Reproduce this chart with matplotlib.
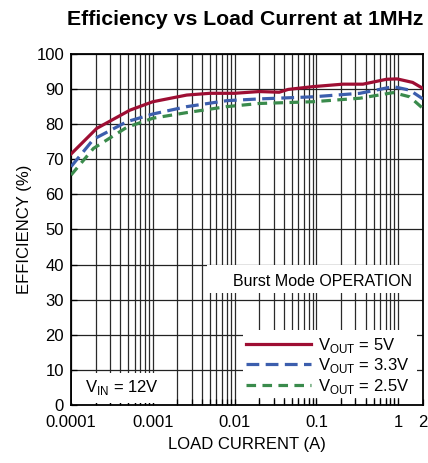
import numpy as np
import matplotlib
matplotlib.use("Agg")
import matplotlib.pyplot as plt
from matplotlib.patches import Rectangle
from matplotlib.ticker import FixedLocator, NullFormatter

plt.rcParams['font.family'] = ['Liberation Sans', 'DejaVu Sans']

# data
current_5v = [0.0001, 0.000206, 0.000525, 0.001, 0.0026, 0.005, 0.01, 0.02, 0.035, 0.045, 0.091, 0.21, 0.37, 0.72, 0.97, 1.5, 2.0]
eff_5v = [71.5, 78.8, 84.0, 86.4, 88.3, 88.8, 88.8, 89.3, 89.1, 89.9, 90.7, 91.4, 91.4, 92.8, 92.9, 91.9, 90.2]

current_33v = [0.0001, 0.000188, 0.00048, 0.001, 0.0026, 0.008, 0.02, 0.091, 0.34, 0.87, 1.38, 2.0]
eff_33v = [67.9, 75.7, 80.7, 82.9, 85.0, 86.7, 87.2, 87.8, 88.8, 90.7, 89.7, 87.2]

current_25v = [0.0001, 0.000188, 0.00048, 0.001, 0.0026, 0.008, 0.02, 0.091, 0.34, 0.87, 1.38, 2.0]
eff_25v = [65.5, 73.1, 79.1, 81.7, 83.3, 85.0, 85.9, 86.4, 87.4, 89.0, 87.8, 84.5]

x_ticks = [0.0001, 0.001, 0.01, 0.1, 1, 2]
x_tick_labels = ["0.0001", "0.001", "0.01", "0.1", "1", "2"]
y_ticks = list(range(0, 101, 10))

fig = plt.figure(figsize=(4.28, 4.63), dpi=100)
ax = fig.add_axes([0.166, 0.1253, 0.822, 0.7581])

ax.set_xscale("log")
ax.set_xlim(0.0001, 2)
ax.set_ylim(0, 100)

minor = [m * 10.0**e for e in range(-4, 1) for m in range(2, 10)]
minor = [v for v in minor if v < 2]
ax.xaxis.set_major_locator(FixedLocator(x_ticks))
ax.xaxis.set_minor_locator(FixedLocator(minor))
ax.xaxis.set_minor_formatter(NullFormatter())
ax.set_xticklabels(x_tick_labels)
ax.set_yticks(y_ticks)

ax.set_axisbelow(True)
ax.grid(True, which="both", axis="x", color="#2a2a2a", lw=0.9)
ax.grid(True, which="major", axis="y", color="#222222", lw=0.9)
ax.tick_params(which="both", direction="in", labelsize=12, length=4, width=0.9)
ax.tick_params(axis="x", pad=7)
ax.tick_params(axis="y", pad=5)
for s in ax.spines.values():
    s.set_linewidth(1.3)

# white boxes behind the labels
ax.add_patch(Rectangle((0.386, 0.319), 0.614, 0.080, transform=ax.transAxes,
                       facecolor="white", edgecolor="none", zorder=1))
ax.add_patch(Rectangle((0.489, 0.02), 0.494, 0.194, transform=ax.transAxes,
                       facecolor="white", edgecolor="none", zorder=1))
ax.add_patch(Rectangle((0.003, 0.006), 0.278, 0.085, transform=ax.transAxes,
                       facecolor="white", edgecolor="none", zorder=1))

ax.plot(current_5v, eff_5v, color="#9e0e33", lw=2.3, zorder=3,
        label="V$_{\\mathregular{OUT}}$ = 5V")
ax.plot(current_33v, eff_33v, color="#3c5ead", lw=2.3, ls=(0, (4, 2)), zorder=3,
        label="V$_{\\mathregular{OUT}}$ = 3.3V")
ax.plot(current_25v, eff_25v, color="#3a8b4c", lw=2.3, ls=(0, (3, 2)), zorder=3,
        label="V$_{\\mathregular{OUT}}$ = 2.5V")

ax.legend(loc="lower right", bbox_to_anchor=(1.0, -0.012), frameon=False, fontsize=12,
          handlelength=3.9, handletextpad=0.4, labelspacing=0.1, borderpad=0.3)

ax.text(0.969, 0.352, "Burst Mode OPERATION", transform=ax.transAxes,
        ha="right", va="center", fontsize=11.5, zorder=3)
ax.text(0.04, 0.05, "V$_{\\mathregular{IN}}$ = 12V", transform=ax.transAxes,
        ha="left", va="center", fontsize=12, zorder=3)

ax.set_xlabel("LOAD CURRENT (A)", fontsize=12, labelpad=5)
ax.set_ylabel("EFFICIENCY (%)", fontsize=12, labelpad=3)
fig.text(0.573, 0.957, "Efficiency vs Load Current at 1MHz", ha="center", va="center",
         fontsize=15.3, fontweight="bold")

fig.savefig("out.png", dpi=100)
